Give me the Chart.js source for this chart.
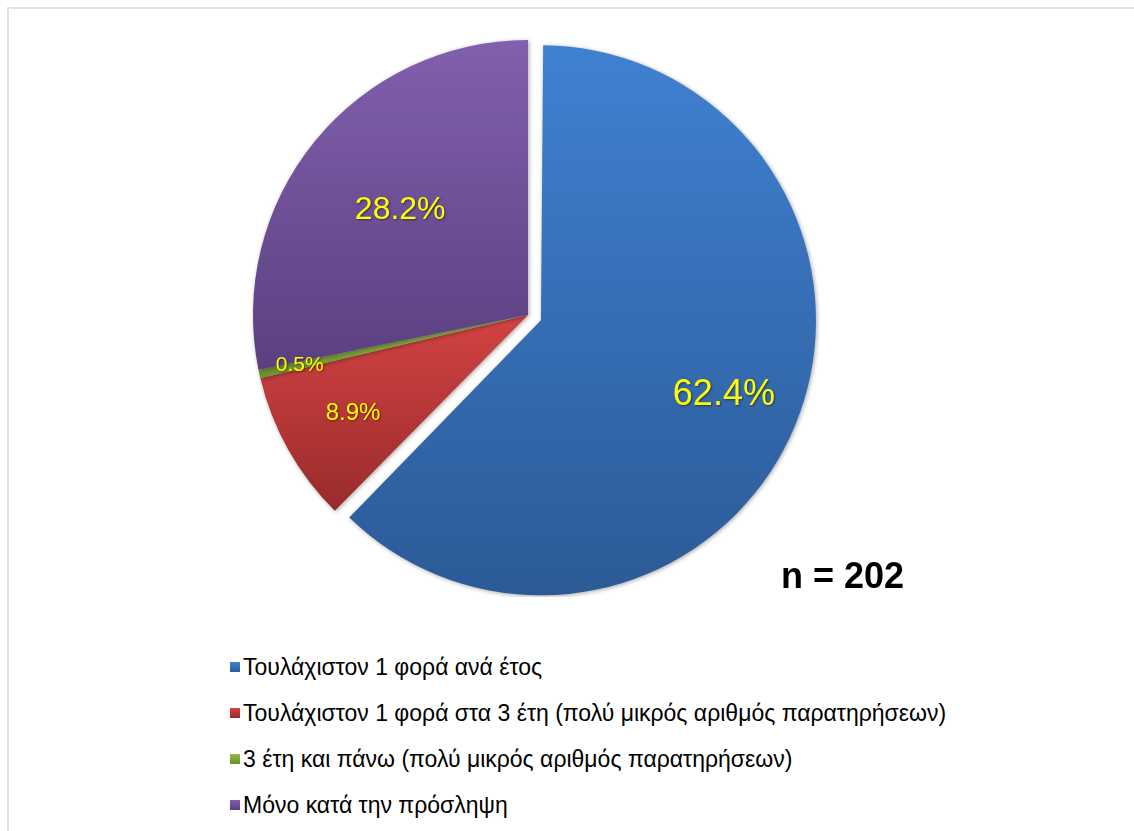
<!DOCTYPE html>
<html>
<head>
<meta charset="utf-8">
<script src="https://cdn.jsdelivr.net/npm/chart.js@4.4.1/dist/chart.umd.min.js"></script>
<style>
  html, body { margin: 0; padding: 0; background: #fff; }
  body { width: 1134px; height: 831px; overflow: hidden; position: relative; font-family: "Liberation Sans", Arial, sans-serif; }
  #frame { position: absolute; left: 7px; top: 7px; width: 1200px; height: 900px; border: 2px solid #dae4f1; box-sizing: border-box; }
  #pie-wrap { position: absolute; left: 0; top: 33px; width: 1056px; height: 564px; }
  #legend { position: absolute; left: 230px; top: 644px; font-size: 23px; color: #000; }
  #legend .row { height: 46px; display: flex; align-items: center; white-space: nowrap; }
  #legend .box { width: 10px; height: 10px; margin-right: 3px; flex: none; }
</style>
</head>
<body>
<div id="frame"></div>
<div id="pie-wrap"><canvas id="pie" width="1056" height="564"></canvas></div>
<div id="legend"></div>
<script>
// data
const categories = [
    'Τουλάχιστον 1 φορά ανά έτος',
    'Τουλάχιστον 1 φορά στα 3 έτη (πολύ μικρός αριθμός παρατηρήσεων)',
    '3 έτη και πάνω (πολύ μικρός αριθμός παρατηρήσεων)',
    'Μόνο κατά την πρόσληψη'
];
const percentages = [62.4, 8.9, 0.5, 28.2];
const sampleNote = 'n = 202';

// top / bottom colour of each slice's gradient
const topColors = ['#3f81d1', '#d34343', '#93bb40', '#8160ad'];
const bottomColors = ['#2c5a97', '#992b2b', '#6b8e2e', '#5a4080'];

const PIE_RADIUS = 275;

// vertical extent of a slice, used for its gradient
function sliceYRange(cy, r, start, end) {
    let ys = [cy, cy + Math.sin(start) * r, cy + Math.sin(end) * r];
    [-Math.PI / 2, Math.PI / 2, 3 * Math.PI / 2].forEach(a => {
        if (a > start && a < end) ys.push(cy + Math.sin(a) * r);
    });
    return [Math.min.apply(null, ys), Math.max.apply(null, ys)];
}

function sliceFill(context) {
    const chart = context.chart;
    const area = chart.chartArea;
    const i = context.dataIndex;
    if (!area) return topColors[i];
    const total = percentages.reduce((a, b) => a + b, 0);
    let before = 0;
    for (let k = 0; k < i; k++) before += percentages[k];
    const start = -Math.PI / 2 + before / total * Math.PI * 2;
    const end = start + percentages[i] / total * Math.PI * 2;
    const cy = (area.top + area.bottom) / 2;
    const yr = sliceYRange(cy, PIE_RADIUS, start, end);
    const g = chart.ctx.createLinearGradient(0, yr[0], 0, yr[1]);
    g.addColorStop(0, topColors[i]);
    g.addColorStop(1, bottomColors[i]);
    return g;
}

// the arc element grows an exploded slice's radius; undo that so it keeps the pie's size
const explodeFix = {
    id: 'explodeFix',
    afterDatasetUpdate(chart, args) {
        args.meta.data.forEach(arc => {
            const off = (arc.options.offset || 0) / 4;
            if (!off) return;
            const fix = 1 - Math.sin(Math.min(Math.PI, arc.circumference || 0));
            arc.outerRadius = PIE_RADIUS - off * fix;
        });
    }
};

const shadowPlugin = {
    id: 'sliceShadow',
    beforeDatasetsDraw(chart) {
        const ctx = chart.ctx;
        ctx.save();
        ctx.shadowColor = 'rgba(0,0,0,0.35)';
        ctx.shadowBlur = 4;
        ctx.shadowOffsetX = 1;
        ctx.shadowOffsetY = 1;
    },
    afterDatasetsDraw(chart) {
        chart.ctx.restore();
    }
};

const labelPlugin = {
    id: 'sliceLabels',
    afterDraw(chart, args, opts) {
        const ctx = chart.ctx;
        const meta = chart.getDatasetMeta(0);
        ctx.save();
        ctx.textAlign = 'center';
        ctx.textBaseline = 'middle';
        ctx.fillStyle = '#ffff00';
        ctx.shadowColor = 'rgba(0,0,0,0.45)';
        ctx.shadowBlur = 2;
        ctx.shadowOffsetX = 1;
        ctx.shadowOffsetY = 1;
        meta.data.forEach((arc, i) => {
            const p = arc.getProps(['x', 'y', 'startAngle', 'endAngle'], true);
            const mid = (p.startAngle + p.endAngle) / 2;
            const r = PIE_RADIUS * opts.radial[i];
            ctx.font = opts.sizes[i] + 'px "Liberation Sans", Arial, sans-serif';
            ctx.fillText(percentages[i].toFixed(1) + '%', p.x + Math.cos(mid) * r, p.y + Math.sin(mid) * r);
        });
        ctx.restore();

        // sample size note
        ctx.save();
        ctx.font = 'bold 36px "Liberation Sans", Arial, sans-serif';
        ctx.fillStyle = '#000';
        ctx.textAlign = 'left';
        ctx.textBaseline = 'middle';
        ctx.fillText(sampleNote, 781, 545);
        ctx.restore();
    }
};

document.addEventListener('DOMContentLoaded', function() {
    const pieCtx = document.getElementById('pie').getContext('2d');
    new Chart(pieCtx, {
        type: 'pie',
        data: {
            labels: categories,
            datasets: [{
                data: percentages,
                backgroundColor: sliceFill,
                borderWidth: 0,
                offset: [56, 0, 0, 0],
                radius: PIE_RADIUS
            }]
        },
        options: {
            responsive: false,
            animation: false,
            layout: { padding: 0 },
            plugins: {
                legend: { display: false },
                tooltip: { enabled: false },
                sliceLabels: {
                    radial: [0.77, 0.73, 0.85, 0.6],
                    sizes: [36, 24, 21, 32]
                }
            }
        },
        plugins: [explodeFix, shadowPlugin, labelPlugin]
    });

    // legend
    const legend = document.getElementById('legend');
    categories.forEach((name, i) => {
        const row = document.createElement('div');
        row.className = 'row';
        const box = document.createElement('span');
        box.className = 'box';
        box.style.background = 'linear-gradient(' + topColors[i] + ',' + bottomColors[i] + ')';
        const txt = document.createElement('span');
        txt.textContent = name;
        row.appendChild(box);
        row.appendChild(txt);
        legend.appendChild(row);
    });
});
</script>
</body>
</html>
